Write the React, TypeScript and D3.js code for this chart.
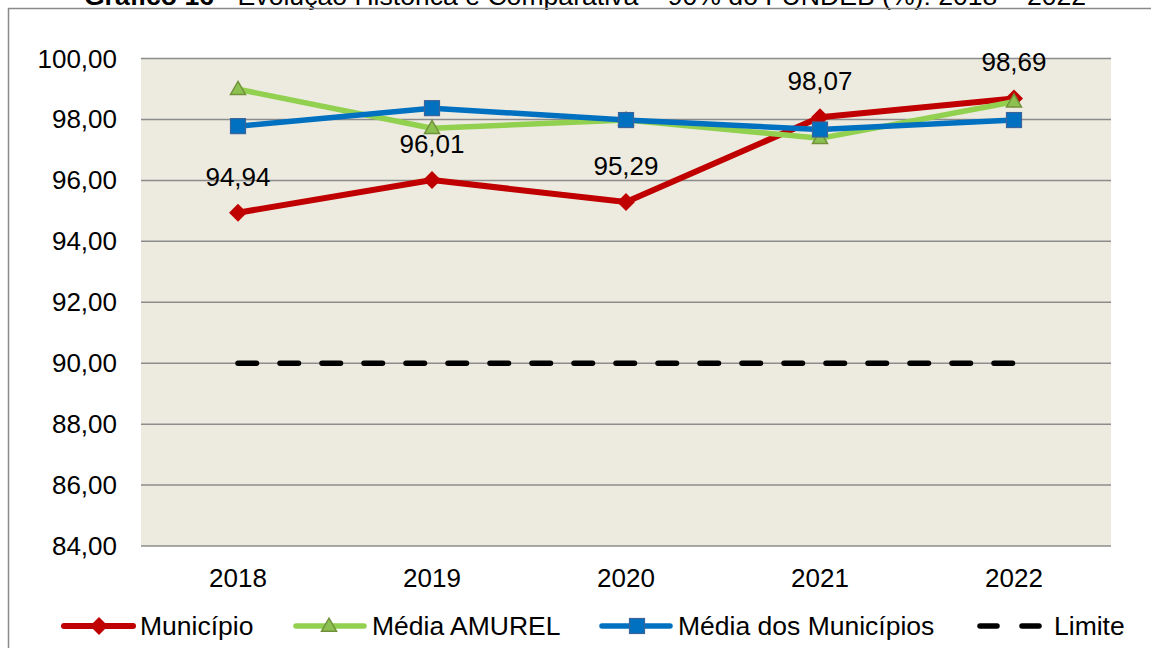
import React from "react";
import * as d3 from "d3";

const years = ["2018", "2019", "2020", "2021", "2022"];
const municipio = [94.94, 96.01, 95.29, 98.07, 98.69];
const mediaAmurel = [98.99, 97.71, 97.98, 97.38, 98.58];
const mediaMunicipios = [97.78, 98.37, 97.98, 97.67, 97.98];
const limite = [90, 90, 90, 90, 90];
const yTicks = [84, 86, 88, 90, 92, 94, 96, 98, 100];

const W = 1151;
const H = 648;
const FONT = "'Liberation Sans', Arial, Helvetica, sans-serif";

const RED = "#C00000";
const GREEN = "#92D050";
const BLUE = "#0070C0";

const fmt = (v: number) => d3.format(".2f")(v).replace(".", ",");

function Diamond({ x, y, r }: { x: number; y: number; r: number }) {
  return <path d={`M${x},${y - r}L${x + r},${y}L${x},${y + r}L${x - r},${y}Z`} fill={RED} />;
}
function Triangle({ x, y, s }: { x: number; y: number; s: number }) {
  const h = s * 0.87;
  return (
    <path
      d={`M${x},${y - h * 0.6}L${x + s / 2},${y + h * 0.4}L${x - s / 2},${y + h * 0.4}Z`}
      fill="#8CC152"
      stroke="#71923A"
      strokeWidth={1.5}
    />
  );
}
function Square({ x, y, s }: { x: number; y: number; s: number }) {
  return <rect x={x - s / 2} y={y - s / 2} width={s} height={s} fill={BLUE} stroke="#3A649A" strokeWidth={1.2} />;
}

export default function App() {
  const plotL = 141, plotR = 1111, plotT = 58.5, plotB = 546;
  const x = d3.scalePoint<string>().domain(years).range([plotL, plotR]).padding(0.5);
  const y = d3.scaleLinear().domain([84, 100]).range([plotB, plotT]);
  const line = d3
    .line<number>()
    .x((_, i) => x(years[i]) as number)
    .y((d) => y(d));

  const legendY = 626;

  return (
    <svg width={W} height={H} style={{ position: "absolute", left: 0, top: 0 }} fontFamily={FONT}>
      <rect x={0} y={0} width={W} height={H} fill="#ffffff" />
      {/* title (cut at top, as in the reference) */}
      <text x={585} y={4.5} textAnchor="middle" fontSize={26.6} fill="#000">
        <tspan fontWeight="bold">Gráfico 16</tspan>
        <tspan> - Evolução Histórica e Comparativa – 90% do FUNDEB (%): 2018 – 2022</tspan>
      </text>
      {/* chart border */}
      <rect x={8.5} y={8.5} width={1300} height={800} fill="none" stroke="#8a8a8a" strokeWidth={1.5} />
      {/* plot area */}
      <rect x={plotL} y={plotT} width={plotR - plotL} height={plotB - plotT} fill="#EDEBE0" />
      {yTicks.map((t) => (
        <g key={t}>
          <line x1={plotL} x2={plotR} y1={y(t)} y2={y(t)} stroke="#8c8c8c" strokeWidth={1.5} />
          <text x={117} y={y(t) + 9} textAnchor="end" fontSize={26} fill="#000">
            {fmt(t)}
          </text>
        </g>
      ))}
      {years.map((yr) => (
        <text key={yr} x={x(yr)} y={587} textAnchor="middle" fontSize={26} fill="#000">
          {yr}
        </text>
      ))}
      {/* series */}
      <path d={line(municipio) as string} fill="none" stroke={RED} strokeWidth={6} strokeLinejoin="round" />
      {municipio.map((v, i) => (
        <Diamond key={i} x={x(years[i]) as number} y={y(v)} r={9} />
      ))}
      <path d={line(mediaAmurel) as string} fill="none" stroke={GREEN} strokeWidth={5.5} strokeLinejoin="round" />
      {mediaAmurel.map((v, i) => (
        <Triangle key={i} x={x(years[i]) as number} y={y(v)} s={15} />
      ))}
      <path d={line(mediaMunicipios) as string} fill="none" stroke={BLUE} strokeWidth={5.5} strokeLinejoin="round" />
      {mediaMunicipios.map((v, i) => (
        <Square key={i} x={x(years[i]) as number} y={y(v)} s={15} />
      ))}
      <path
        d={line(limite) as string}
        fill="none"
        stroke="#000"
        strokeWidth={5.5}
        strokeDasharray="18.5,23.5"
        strokeLinecap="round"
      />
      {/* data labels */}
      {municipio.map((v, i) => (
        <text key={i} x={x(years[i]) as number} y={y(v) - 27} textAnchor="middle" fontSize={26} fill="#000">
          {fmt(v)}
        </text>
      ))}
      {/* legend */}
      <g fontSize={26.5}>
        <line x1={64} x2={133} y1={legendY} y2={legendY} stroke={RED} strokeWidth={6} strokeLinecap="round" />
        <Diamond x={99} y={legendY} r={9} />
        <text x={140} y={legendY + 9} fill="#000">Município</text>

        <line x1={296} x2={364} y1={legendY} y2={legendY} stroke={GREEN} strokeWidth={5.5} strokeLinecap="round" />
        <Triangle x={329} y={legendY} s={15} />
        <text x={372} y={legendY + 9} fill="#000">Média AMUREL</text>

        <line x1={602} x2={670} y1={legendY} y2={legendY} stroke={BLUE} strokeWidth={5.5} strokeLinecap="round" />
        <Square x={637} y={legendY} s={15} />
        <text x={678} y={legendY + 9} fill="#000">Média dos Municípios</text>

        <line
          x1={980}
          x2={1040}
          y1={legendY}
          y2={legendY}
          stroke="#000"
          strokeWidth={5.5}
          strokeDasharray="17,25"
          strokeLinecap="round"
        />
        <text x={1054} y={legendY + 9} fill="#000">Limite</text>
      </g>
    </svg>
  );
}
